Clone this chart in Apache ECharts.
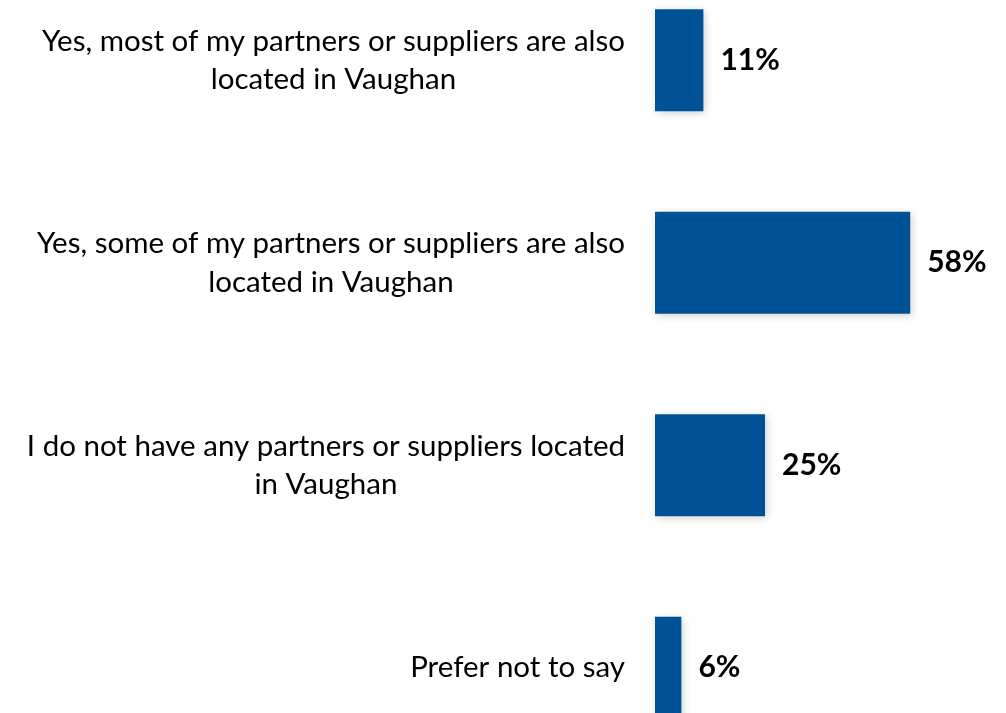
<!DOCTYPE html>
<html>
<head>
<meta charset="utf-8">
<script src="https://cdn.jsdelivr.net/npm/echarts@6/dist/echarts.min.js"></script>
<style>
  html, body { margin: 0; padding: 0; background: #ffffff; overflow: hidden; }
  #chart { width: 1006px; height: 713px; }
</style>
</head>
<body>
<div id="chart"></div>
<script>
// Survey answers: location of partners or suppliers
const categories = [
  'Yes, most of my partners or suppliers are also\nlocated in Vaughan',
  'Yes, some of my partners or suppliers are also\nlocated in Vaughan',
  'I do not have any partners or suppliers located\nin Vaughan',
  'Prefer not to say'
];
const shares = [11, 58, 25, 6];

const chart = echarts.init(document.getElementById('chart'));

chart.setOption({
  animation: false,
  grid: {
    left: 655,
    top: -41,
    width: 440,
    height: 810,
    containLabel: false,
    outerBoundsMode: 'none'
  },
  xAxis: {
    type: 'value',
    min: 0,
    max: 100,
    show: false
  },
  yAxis: {
    type: 'category',
    data: categories,
    inverse: true,
    axisLine: { show: false },
    axisTick: { show: false },
    splitLine: { show: false },
    axisLabel: {
      interval: 0,
      margin: 30,
      align: 'right',
      // each line centred inside the right-aligned text block
      formatter: function (value) {
        return value.split('\n').map(function (line) { return '{c|' + line + '}'; }).join('\n');
      },
      rich: {
        c: {
          align: 'center',
          fontFamily: 'Lato',
          fontSize: 29.5,
          lineHeight: 38.5,
          color: '#000000'
        }
      }
    }
  },
  series: [{
    type: 'bar',
    data: shares,
    barWidth: 102,
    itemStyle: {
      color: '#005296',
      shadowColor: 'rgba(0,0,0,0.18)',
      shadowBlur: 8,
      shadowOffsetX: 2,
      shadowOffsetY: 2
    },
    label: {
      show: true,
      position: 'right',
      distance: 17,
      formatter: '{c}%',
      fontFamily: 'Lato',
      fontWeight: 'bold',
      fontSize: 30,
      color: '#000000'
    }
  }]
});
</script>
</body>
</html>
